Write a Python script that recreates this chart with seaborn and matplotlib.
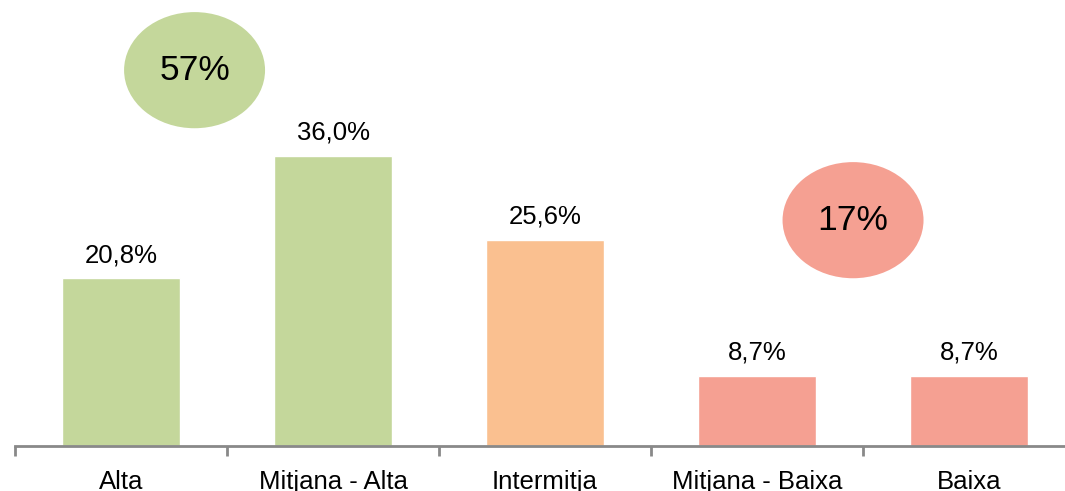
import numpy as np
import matplotlib
matplotlib.use("Agg")
import matplotlib.pyplot as plt
from matplotlib.patches import Ellipse
import pandas as pd
import seaborn as sns

# chart data
categories = ["Alta", "Mitjana - Alta", "Intermitja", "Mitjana - Baixa", "Baixa"]
values = [20.8, 36.0, 25.6, 8.7, 8.7]
colors = ["#C4D79B", "#C4D79B", "#FAC090", "#F5A092", "#F5A092"]

# grouped totals shown in the bubbles
group_labels = ["57%", "17%"]
group_colors = ["#C4D79B", "#F5A092"]
group_pos = [(0.347, 46.6), (3.453, 28.0)]

df = pd.DataFrame({"cat": categories, "val": values})

sns.set_theme(style="white")
plt.rcParams["font.family"] = ["Liberation Sans", "DejaVu Sans"]

fig = plt.figure(figsize=(10.65, 4.91), dpi=100)
ax = fig.add_axes([15 / 1065, 45 / 491, 1060 / 1065, 446 / 491])

sns.barplot(data=df, x="cat", y="val", hue="cat", palette=colors,
            width=0.557, legend=False, saturation=1, ax=ax)

for c in ax.containers:
    ax.bar_label(c, labels=[f"{v:.1f}%".replace(".", ",") for v in c.datavalues],
                 padding=8, fontsize=18.5, color="black")

# bubbles
for (x, y), lab, col in zip(group_pos, group_labels, group_colors):
    ax.add_patch(Ellipse((x, y), 0.665, 14.4, facecolor=col, edgecolor="none", zorder=3))
    ax.text(x, y, lab, ha="center", va="center", fontsize=25.5, color="black", zorder=4)

ax.set_ylim(0, 55.3)
ax.set_xlim(-0.5, 4.5)
ax.set_xlabel("")
ax.set_ylabel("")
ax.set_yticks([])

for s in ["top", "right", "left"]:
    ax.spines[s].set_visible(False)
ax.spines["bottom"].set_color("#898989")
ax.spines["bottom"].set_linewidth(2)

ax.set_xticks(range(len(categories)))
ax.set_xticklabels(categories, fontsize=18.5, color="black")
ax.set_xticks(np.arange(-0.5, len(categories)), minor=True)
ax.tick_params(axis="x", which="major", length=0, pad=17)
ax.tick_params(axis="x", which="minor", length=7, width=2, color="#898989", direction="out", bottom=True)

fig.savefig("out.png", dpi=100, facecolor="white")
